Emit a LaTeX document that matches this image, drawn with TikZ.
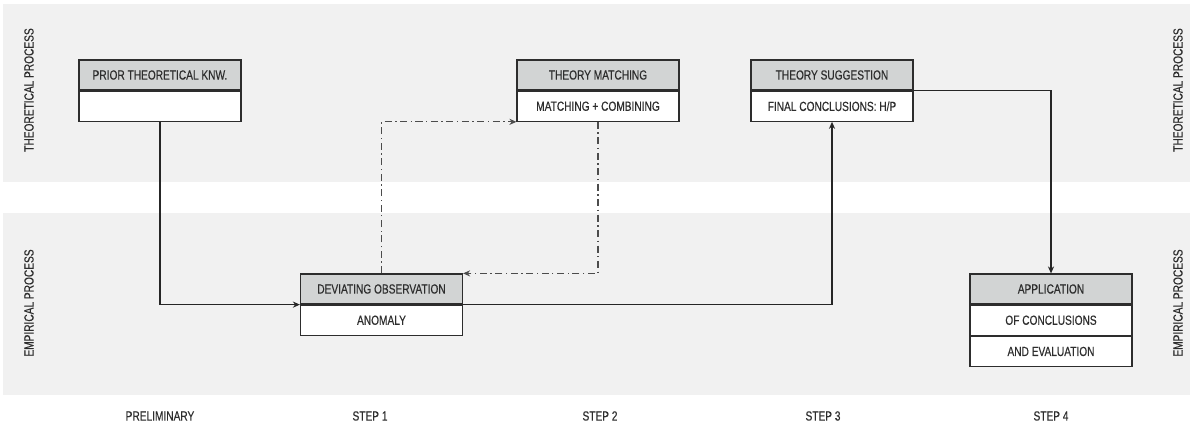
\documentclass[tikz,border=0pt]{standalone}
\usepackage{fontspec}
\setmainfont{Liberation Sans}[FakeStretch=0.77, FakeBold=0.4]
\usepackage{tikz}
\usetikzlibrary{arrows.meta, positioning}
\usepackage{xcolor}
\definecolor{bandgray}{RGB}{241,241,241}
\definecolor{headgray}{RGB}{210,212,212}
\definecolor{inkgray}{RGB}{45,45,45}

\tikzset{
  head/.style={draw=inkgray, line width=0.7pt, fill=headgray, minimum width=3.24cm,
               minimum height=0.6cm, inner sep=0pt, text=inkgray,
               font=\fontsize{7.5}{8}\selectfont},
  cell/.style={head, fill=white},
  lbl/.style={text=inkgray, font=\fontsize{7.5}{8}\selectfont},
  flow/.style={line width=0.6pt, draw=black!85, -{Stealth[length=4pt,width=3.5pt]}},
  loopflow/.style={flow, dash pattern=on 4pt off 2pt on 0.8pt off 2pt, draw=black!70}
}

\begin{document}
\begin{tikzpicture}[x=0.02cm, y=-0.02cm]
    \useasboundingbox (0,0) rectangle (1194,427);
    % bands
    \fill[bandgray] (3,4) rectangle (1190,182);
    \fill[bandgray] (3,213) rectangle (1190,395);

    % side labels
    \node[lbl, rotate=90] (thl) at (29,90) {THEORETICAL PROCESS};
    \node[lbl, rotate=90] (thr) at (1178,90) {THEORETICAL PROCESS};
    \node[lbl, rotate=90] (eml) at (29,303) {EMPIRICAL PROCESS};
    \node[lbl, rotate=90] (emr) at (1178,303) {EMPIRICAL PROCESS};

    % boxes
    \node[head] (prior) at (160,75) {PRIOR THEORETICAL KNW.};
    \node[cell, below=0pt of prior] (priorB) {};
    \node[head] (match) at (598,75) {THEORY MATCHING};
    \node[cell, below=0pt of match] (matchB) {MATCHING + COMBINING};
    \node[head] (sugg) at (832,75) {THEORY SUGGESTION};
    \node[cell, below=0pt of sugg] (suggB) {FINAL CONCLUSIONS: H/P};
    \node[head] (obs) at (381.5,289) {DEVIATING OBSERVATION};
    \node[cell, below=0pt of obs] (obsB) {ANOMALY};
    \node[head] (app) at (1051,289) {APPLICATION};
    \node[cell, below=0pt of app] (appB) {OF CONCLUSIONS};
    \node[cell, below=0pt of appB] (appC) {AND EVALUATION};

    % step labels
    \node[lbl] (s0) at (160,416) {PRELIMINARY};
    \node[lbl] (s1) at (370,416) {STEP 1};
    \node[lbl] (s2) at (600,416) {STEP 2};
    \node[lbl] (s3) at (823,416) {STEP 3};
    \node[lbl] (s4) at (1051,416) {STEP 4};

    % connectors
    \draw[flow] (priorB.south) |- (obs.south west);
    \draw[flow] (obs.south east) -| (suggB.south);
    \draw[flow] (sugg.south east) -| (app.north);
    \draw[loopflow] (obs.north) |- (matchB.south west);
    \draw[loopflow] (matchB.south) |- (obs.north east);
\end{tikzpicture}
\end{document}
